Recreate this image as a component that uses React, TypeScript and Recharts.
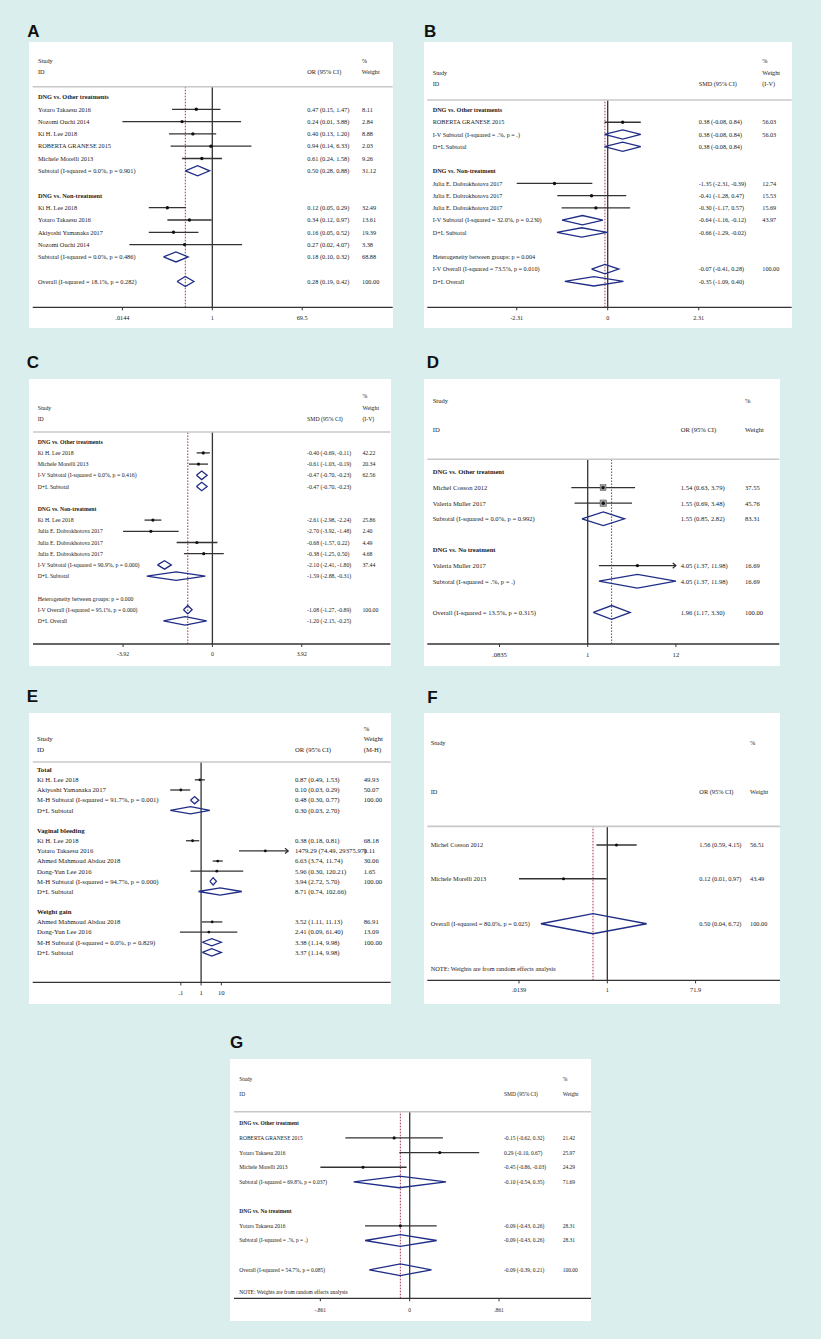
import React from 'react';
import { ScatterChart, Scatter, XAxis, YAxis, ReferenceLine } from 'recharts';

const SERIF = '"Liberation Serif", "Times New Roman", serif';
const SANS = '"Liberation Sans", Arial, sans-serif';
const BG = '#daeeee';
const NAVY = '#1f2d86';
const RED = '#a3364f';

// ---------- Panel A ----------
const aRows = [0, 1, 2, 3, 4, 5, 6, 8, 9, 10, 11, 12, 13, 15];
const aLabels = ['DNG vs.  Other treatments', 'Yotaro Takaesu 2016', 'Nozomi Ouchi 2014', 'Ki H. Lee 2018', 'ROBERTA GRANESE 2015', 'Michele Morelli 2013', 'Subtotal  (I-squared = 0.0%, p = 0.901)', 'DNG vs. Non-treatment', 'Ki H. Lee 2018', 'Yotaro Takaesu 2016', 'Akiyoshi Yamanaka 2017', 'Nozomi Ouchi 2014', 'Subtotal  (I-squared = 0.0%, p = 0.486)', 'Overall  (I-squared = 18.1%, p = 0.282)'];
const aKinds = ['h', 's', 's', 's', 's', 's', 'd', 'h', 's', 's', 's', 's', 'd', 'd'];
const aEst = [null, 0.47, 0.24, 0.40, 0.94, 0.61, 0.50, null, 0.12, 0.34, 0.16, 0.27, 0.18, 0.28];
const aLow = [null, 0.15, 0.0144, 0.13, 0.14, 0.24, 0.28, null, 0.05, 0.12, 0.05, 0.02, 0.10, 0.19];
const aHigh = [null, 1.47, 3.88, 1.20, 6.33, 1.58, 0.88, null, 0.29, 0.97, 0.52, 4.07, 0.32, 0.42];
const aWeight = [null, 8.11, 2.84, 8.88, 2.03, 9.26, 31.12, null, 32.49, 13.61, 19.39, 3.38, 68.88, 100];
const aTicks = [0.0144, 1, 69.5];
const aTickLabels = ['.0144', '1', '69.5'];

// ---------- Panel B ----------
const bRows = [0, 1, 2, 3, 5, 6, 7, 8, 9, 10, 12, 13, 14];
const bLabels = ['DNG vs.  Other treatments', 'ROBERTA GRANESE 2015', 'I-V Subtotal  (I-squared = .%, p = .)', 'D+L Subtotal', 'DNG vs. Non-treatment', 'Julia E. Dobrokhotova 2017', 'Julia E. Dobrokhotova 2017', 'Julia E. Dobrokhotova 2017', 'I-V Subtotal  (I-squared = 32.0%, p = 0.230)', 'D+L Subtotal', 'Heterogeneity between groups: p = 0.004', 'I-V Overall  (I-squared = 73.5%, p = 0.010)', 'D+L Overall'];
const bKinds = ['h', 's', 'd', 'd', 'h', 's', 's', 's', 'd', 'd', 't', 'd', 'd'];
const bEst = [null, 0.38, 0.38, 0.38, null, -1.35, -0.41, -0.30, -0.64, -0.66, null, -0.07, -0.35];
const bLow = [null, -0.08, -0.08, -0.08, null, -2.31, -1.28, -1.17, -1.16, -1.29, null, -0.41, -1.09];
const bHigh = [null, 0.84, 0.84, 0.84, null, -0.39, 0.47, 0.57, -0.12, -0.02, null, 0.28, 0.40];
const bWeight = [null, 56.03, 56.03, null, null, 12.74, 15.53, 15.69, 43.97, null, null, 100, null];
const bTicks = [-2.31, 0, 2.31];
const bTickLabels = ['-2.31', '0', '2.31'];

// ---------- Panel C ----------
const cRows = [0, 1, 2, 3, 4, 6, 7, 8, 9, 10, 11, 12, 14, 15, 16];
const cLabels = ['DNG vs.  Other treatments', 'Ki H. Lee 2018', 'Michele Morelli 2013', 'I-V Subtotal  (I-squared = 0.0%, p = 0.416)', 'D+L Subtotal', 'DNG vs. Non-treatment', 'Ki H. Lee 2018', 'Julia E. Dobrokhotova 2017', 'Julia E. Dobrokhotova 2017', 'Julia E. Dobrokhotova 2017', 'I-V Subtotal  (I-squared = 90.9%, p = 0.000)', 'D+L Subtotal', 'Heterogeneity between groups: p = 0.000', 'I-V Overall  (I-squared = 95.1%, p = 0.000)', 'D+L Overall'];
const cKinds = ['h', 's', 's', 'd', 'd', 'h', 's', 's', 's', 's', 'd', 'd', 't', 'd', 'd'];
const cEst = [null, -0.40, -0.61, -0.47, -0.47, null, -2.61, -2.70, -0.68, -0.38, -2.10, -1.59, null, -1.08, -1.20];
const cLow = [null, -0.69, -1.03, -0.70, -0.70, null, -2.98, -3.92, -1.57, -1.25, -2.41, -2.88, null, -1.27, -2.15];
const cHigh = [null, -0.11, -0.19, -0.23, -0.23, null, -2.24, -1.48, 0.22, 0.50, -1.80, -0.31, null, -0.89, -0.25];
const cWeight = [null, 42.22, 20.34, 62.56, null, null, 25.86, 2.40, 4.49, 4.68, 37.44, null, null, 100, null];
const cTicks = [-3.92, 0, 3.92];
const cTickLabels = ['-3.92', '0', '3.92'];

// ---------- Panel D ----------
const dRows = [0, 1, 2, 3, 5, 6, 7, 9];
const dLabels = ['DNG vs.  Other treatment', 'Michel Cosson 2012', 'Valeria Muller 2017', 'Subtotal  (I-squared = 0.0%, p = 0.992)', 'DNG vs. No treatment', 'Valeria Muller 2017', 'Subtotal  (I-squared = .%, p = .)', 'Overall  (I-squared = 13.5%, p = 0.315)'];
const dKinds = ['h', 's', 's', 'd', 'h', 's', 'd', 'd'];
const dEst = [null, 1.54, 1.55, 1.55, null, 4.05, 4.05, 1.96];
const dLow = [null, 0.63, 0.69, 0.85, null, 1.37, 1.37, 1.17];
const dHigh = [null, 3.79, 3.48, 2.82, null, 11.98, 11.98, 3.30];
const dWeight = [null, 37.55, 45.76, 83.31, null, 16.69, 16.69, 100];
const dTicks = [1 / 11.98, 1, 11.98];
const dTickLabels = ['.0835', '1', '12'];

// ---------- Panel E ----------
const eRows = [0, 1, 2, 3, 4, 6, 7, 8, 9, 10, 11, 12, 14, 15, 16, 17, 18];
const eLabels = ['Total', 'Ki H. Lee 2018', 'Akiyoshi Yamanaka 2017', 'M-H Subtotal  (I-squared = 91.7%, p = 0.001)', 'D+L Subtotal', 'Vaginal bleeding', 'Ki H. Lee 2018', 'Yotaro Takaesu 2016', 'Ahmed Mahmoud Abdou 2018', 'Dong-Yun Lee 2016', 'M-H Subtotal  (I-squared = 94.7%, p = 0.000)', 'D+L Subtotal', 'Weight gain', 'Ahmed Mahmoud Abdou 2018', 'Dong-Yun Lee 2016', 'M-H Subtotal  (I-squared = 0.0%, p = 0.829)', 'D+L Subtotal'];
const eKinds = ['h', 's', 's', 'd', 'd', 'h', 's', 's', 's', 's', 'd', 'd', 'h', 's', 's', 'd', 'd'];
const eEst = [null, 0.87, 0.10, 0.48, 0.30, null, 0.38, 1479.29, 6.63, 5.96, 3.94, 8.71, null, 3.52, 2.41, 3.38, 3.37];
const eLow = [null, 0.49, 0.03, 0.30, 0.03, null, 0.18, 74.49, 3.74, 0.30, 2.72, 0.74, null, 1.11, 0.09, 1.14, 1.14];
const eHigh = [null, 1.53, 0.29, 0.77, 2.70, null, 0.81, 29375.97, 11.74, 120.21, 5.70, 102.66, null, 11.13, 61.40, 9.98, 9.98];
const eWeight = [null, 49.93, 50.07, 100, null, null, 68.18, 0.11, 30.06, 1.65, 100, null, null, 86.91, 13.09, 100, null];
const eTicks = [0.1, 1, 10];
const eTickLabels = ['.1', '1', '10'];

// ---------- Panel F ----------
const fRows = [0, 3, 7, 11];
const fLabels = ['Michel Cosson 2012', 'Michele Morelli 2013', 'Overall  (I-squared = 80.0%, p = 0.025)', 'NOTE: Weights are from random effects analysis'];
const fKinds = ['s', 's', 'd', 't'];
const fEst = [1.56, 0.12, 0.50, null];
const fLow = [0.59, 0.0139, 0.04, null];
const fHigh = [4.15, 0.97, 6.72, null];
const fWeight = [56.51, 43.49, 100, null];
const fTicks = [1 / 71.9, 1, 71.9];
const fTickLabels = ['.0139', '1', '71.9'];

// ---------- Panel G ----------
const gRows = [0, 1, 2, 3, 4, 6, 7, 8, 10, 11.5];
const gLabels = ['DNG vs.  Other treatment', 'ROBERTA GRANESE 2015', 'Yotaro Takaesu 2016', 'Michele Morelli 2013', 'Subtotal  (I-squared = 69.8%, p = 0.037)', 'DNG vs. No treatment', 'Yotaro Takaesu 2016', 'Subtotal  (I-squared = .%, p = .)', 'Overall  (I-squared = 54.7%, p = 0.085)', 'NOTE: Weights are from random effects analysis'];
const gKinds = ['h', 's', 's', 's', 'd', 'h', 's', 'd', 'd', 't'];
const gEst = [null, -0.15, 0.29, -0.45, -0.10, null, -0.09, -0.09, -0.09, null];
const gLow = [null, -0.62, -0.10, -0.861, -0.54, null, -0.43, -0.43, -0.39, null];
const gHigh = [null, 0.32, 0.67, -0.03, 0.35, null, 0.26, 0.26, 0.21, null];
const gWeight = [null, 21.42, 25.97, 24.29, 71.69, null, 28.31, 28.31, 100, null];
const gTicks = [-0.861, 0, 0.861];
const gTickLabels = ['-.861', '0', '.861'];

type H = { t: string; x: number; y: number };
const hd = (t: string, x: number, y: number): H => ({ t, x, y });

const panels: any[] = [
  {
    label: 'A', lx: 27.3, ly: 36.7, box: [29, 42, 393, 328], axis: [32.7, 392.7], axisY: 307.3, sepY: 86.7,
    firstY: 97, step: 12.3, log: true, domain: [Math.exp(-8.472), Math.exp(8.509)], ticks: aTicks, tickLabels: aTickLabels,
    tickY: 318, ref: 0.28, nullV: 1, cols: [38, 307.3, 362], fs: 6.3, dh: 0.41, mr: 1.7,
    headers: [hd('Study', 38, 60.3), hd('ID', 38, 72), hd('OR (95% CI)', 307.3, 72), hd('%', 361.7, 60.3), hd('Weight', 361.7, 72)],
    rows: aRows, labels: aLabels, kinds: aKinds, est: aEst, low: aLow, high: aHigh, weight: aWeight,
  },
  {
    label: 'B', lx: 424, ly: 36.7, box: [424, 42, 791.7, 328], axis: [427.3, 791.7], axisY: 307.3, sepY: 100,
    firstY: 110, step: 12.24, log: false, domain: [-4.58, 4.671], ticks: bTicks, tickLabels: bTickLabels,
    tickY: 318.3, ref: -0.07, nullV: 0, cols: [432.7, 698.7, 762.3], fs: 6.2, dh: 0.38, mr: 1.7,
    headers: [hd('%', 762.3, 61), hd('Study', 432.7, 73.3), hd('Weight', 762.3, 73.3), hd('ID', 432.7, 84.3), hd('SMD (95% CI)', 698.7, 84.3), hd('(I-V)', 762.3, 84.3)],
    rows: bRows, labels: bLabels, kinds: bKinds, est: bEst, low: bLow, high: bHigh, weight: bWeight,
  },
  {
    label: 'C', lx: 26.7, ly: 368.3, box: [29.3, 379, 391, 666], axis: [33.3, 390.7], axisY: 644, sepY: 432,
    firstY: 441.7, step: 11.2, log: false, domain: [-7.872, 7.81], ticks: cTicks, tickLabels: cTickLabels,
    tickY: 654.3, ref: -1.08, nullV: 0, cols: [38, 307.3, 362.7], fs: 5.8, dh: 0.38, mr: 1.6,
    headers: [hd('%', 362.7, 396), hd('Study', 38, 408.3), hd('Weight', 362.7, 408.3), hd('ID', 38, 419.3), hd('SMD (95% CI)', 307.3, 419.3), hd('(I-V)', 362.7, 419.3)],
    rows: cRows, labels: cLabels, kinds: cKinds, est: cEst, low: cLow, high: cHigh, weight: cWeight,
  },
  {
    label: 'D', lx: 426.7, ly: 368.3, box: [424, 379, 780, 666], axis: [427.3, 779.3], axisY: 644, sepY: 459.3,
    firstY: 472, step: 15.6, log: true, domain: [Math.exp(-4.516), Math.exp(5.394)], ticks: dTicks, tickLabels: dTickLabels,
    tickY: 654.3, ref: 1.96, nullV: 1, cols: [432.7, 680.7, 745], fs: 6.6, dh: 0.44, mr: 1.7, boxScale: 0.95, clipMax: 11.98,
    headers: [hd('Study', 432.7, 400.7), hd('%', 745, 400.7), hd('ID', 432.7, 430), hd('OR (95% CI)', 680.7, 430), hd('Weight', 745, 430)],
    rows: dRows, labels: dLabels, kinds: dKinds, est: dEst, low: dLow, high: dHigh, weight: dWeight,
  },
  {
    label: 'E', lx: 26.7, ly: 701.7, box: [29.3, 713.3, 391, 1004], axis: [33, 391], axisY: 982.7, sepY: 762.3,
    firstY: 770, step: 10.15, log: true, domain: [Math.exp(-19.14), Math.exp(21.55)], ticks: eTicks, tickLabels: eTickLabels,
    tickY: 993.3, ref: null, nullV: 1, cols: [37.3, 295.3, 364], fs: 6.7, dh: 0.36, mr: 1.4, clipMax: 20000,
    headers: [hd('%', 364, 729.3), hd('Study', 37.3, 739.3), hd('Weight', 364, 739.3), hd('ID', 37.3, 750), hd('OR (95% CI)', 295.3, 750), hd('(M-H)', 364, 750)],
    rows: eRows, labels: eLabels, kinds: eKinds, est: eEst, low: eLow, high: eHigh, weight: eWeight,
  },
  {
    label: 'F', lx: 427.3, ly: 703.3, box: [424, 713.3, 780, 1004], axis: [427.3, 780], axisY: 980.7, sepY: 826.7,
    firstY: 845.3, step: 11.25, log: true, domain: [Math.exp(-8.717), Math.exp(8.363)], ticks: fTicks, tickLabels: fTickLabels,
    tickY: 990, ref: 0.5, nullV: 1, cols: [430.7, 699.3, 750], fs: 6.35, dh: 0.89, mr: 1.6,
    headers: [hd('Study', 430.7, 743.3), hd('%', 750, 743.3), hd('ID', 430.7, 791.7), hd('OR (95% CI)', 699.3, 791.7), hd('Weight', 750, 791.7)],
    rows: fRows, labels: fLabels, kinds: fKinds, est: fEst, low: fLow, high: fHigh, weight: fWeight,
  },
  {
    label: 'G', lx: 230, ly: 1048.3, box: [230, 1059, 591, 1320.7], axis: [234, 591], axisY: 1298.3, sepY: 1111.7,
    firstY: 1123.3, step: 14.65, log: false, domain: [-1.693, 1.747], ticks: gTicks, tickLabels: gTickLabels,
    tickY: 1310, ref: -0.09, nullV: 0, cols: [239.3, 504, 562.7], fs: 5.5, dh: 0.4, mr: 1.6,
    headers: [hd('Study', 239.3, 1079.3), hd('%', 562.7, 1079.3), hd('ID', 239.3, 1093.7), hd('SMD (95% CI)', 504, 1093.7), hd('Weight', 562.7, 1093.7)],
    rows: gRows, labels: gLabels, kinds: gKinds, est: gEst, low: gLow, high: gHigh, weight: gWeight,
  },
];

const f2 = (v: number) => v.toFixed(2);

function Panel({ c }: { c: any }) {
  const [L, T, R, B] = c.box;
  const W = R - L;
  const Hh = B - T;
  const margin = { left: c.axis[0] - L, right: R - c.axis[1], top: c.sepY - T, bottom: 0 };
  const xh = B - c.axisY;
  const yDom = [(c.sepY - c.firstY) / c.step, (c.axisY - c.firstY) / c.step];
  const idx: number[] = c.rows.map((_: number, i: number) => i);
  const studies = idx.filter((i) => c.kinds[i] === 's');
  const diamonds = idx.filter((i) => c.kinds[i] === 'd');
  const cap = (v: number) => (c.clipMax != null ? Math.min(v, c.clipMax) : v);
  const textPts = idx.map((i) => ({ x: c.nullV, y: c.rows[i], i }));
  const markerPts = studies.map((i) => ({ x: c.est[i], y: c.rows[i], w: c.weight[i] }));
  const arrowPts = studies
    .filter((i) => c.clipMax != null && c.high[i] >= c.clipMax)
    .map((i) => ({ x: cap(c.high[i]), y: c.rows[i] }));

  const textShape = (p: any) => {
    const i = p.payload.i;
    const y = p.cy + c.fs * 0.35;
    const k = c.kinds[i];
    const ci = c.est[i] != null ? `${f2(c.est[i])} (${f2(c.low[i])}, ${f2(c.high[i])})` : '';
    const w = c.weight[i] != null ? f2(c.weight[i]) : '';
    return (
      <g fontFamily={SERIF} fontSize={c.fs} fill="#1a1a1a" style={{ whiteSpace: 'pre' }}>
        <text x={c.cols[0] - L} y={y} fontWeight={k === 'h' ? 'bold' : 'normal'}>{c.labels[i]}</text>
        {ci ? <text x={c.cols[1] - L} y={y}>{ci}</text> : null}
        {w ? <text x={c.cols[2] - L} y={y}>{w}</text> : null}
      </g>
    );
  };

  const markerShape = (p: any) => {
    const s = c.boxScale ? c.boxScale * Math.sqrt(p.payload.w) : 0;
    return (
      <g>
        {s >= 5 ? <rect x={p.cx - s / 2} y={p.cy - s / 2} width={s} height={s} fill="#9c9c9c" stroke="#555" strokeWidth={0.5} /> : null}
        <circle cx={p.cx} cy={p.cy} r={c.mr} fill="#111" />
      </g>
    );
  };

  const arrowShape = (p: any) => (
    <path d={`M${p.cx - 3.2},${p.cy - 2.6} L${p.cx},${p.cy} L${p.cx - 3.2},${p.cy + 2.6}`} fill="none" stroke="#222" strokeWidth={1.1} />
  );

  const tickFn = (p: any) => {
    const k = c.ticks.indexOf(p.payload.value);
    return (
      <text x={p.x} y={c.tickY - T + c.fs * 0.35} textAnchor="middle" fontFamily={SERIF} fontSize={c.fs} fill="#222">
        {k >= 0 ? c.tickLabels[k] : ''}
      </text>
    );
  };

  return (
    <div style={{ position: 'absolute', left: L, top: T, width: W, height: Hh, background: '#ffffff' }}>
      <div style={{ position: 'absolute', left: 0, top: 0 }}>
        <ScatterChart width={W} height={Hh} margin={margin}>
          <XAxis
            type="number"
            dataKey="x"
            scale={c.log ? 'log' : 'linear'}
            domain={c.domain}
            allowDataOverflow
            ticks={c.ticks}
            interval={0}
            tick={tickFn}
            tickSize={3}
            tickMargin={0}
            height={xh}
            axisLine={{ stroke: '#333', strokeWidth: 1.3 }}
            tickLine={{ stroke: '#333', strokeWidth: 1 }}
          />
          <YAxis type="number" dataKey="y" domain={yDom} reversed hide allowDataOverflow />
          <ReferenceLine x={c.nullV} stroke="#333" strokeWidth={1.3} />
          {c.ref != null ? <ReferenceLine x={c.ref} stroke={RED} strokeWidth={1} strokeDasharray="1.6 1.4" /> : null}
          {studies.map((i) => (
            <ReferenceLine
              key={'ci' + i}
              segment={[{ x: c.low[i], y: c.rows[i] }, { x: cap(c.high[i]), y: c.rows[i] }]}
              stroke="#333"
              strokeWidth={1.3}
            />
          ))}
          {diamonds.map((i) => (
            <Scatter
              key={'dm' + i}
              data={[
                { x: c.low[i], y: c.rows[i] },
                { x: c.est[i], y: c.rows[i] - c.dh },
                { x: c.high[i], y: c.rows[i] },
                { x: c.est[i], y: c.rows[i] + c.dh },
                { x: c.low[i], y: c.rows[i] },
              ]}
              line={{ stroke: NAVY, strokeWidth: 1.3 }}
              lineType="joint"
              shape={() => <g />}
              isAnimationActive={false}
            />
          ))}
          <Scatter data={markerPts} shape={markerShape} isAnimationActive={false} />
          {arrowPts.length > 0 ? <Scatter data={arrowPts} shape={arrowShape} isAnimationActive={false} /> : null}
          <Scatter data={textPts} shape={textShape} isAnimationActive={false} />
        </ScatterChart>
      </div>
      <svg width={W} height={Hh} style={{ position: 'absolute', left: 0, top: 0, pointerEvents: 'none' }}>
        <line x1={margin.left} x2={W - margin.right} y1={c.sepY - T} y2={c.sepY - T} stroke="#c8c8c8" strokeWidth={1.6} />
        {c.headers.map((h: H, j: number) => (
          <text key={j} x={h.x - L} y={h.y - T + c.fs * 0.35} fontFamily={SERIF} fontSize={c.fs} fill="#1a1a1a">{h.t}</text>
        ))}
      </svg>
    </div>
  );
}

export default function App() {
  return (
    <div style={{ position: 'absolute', left: 0, top: 0, width: 821, height: 1339, background: BG, overflow: 'hidden' }}>
      <svg width={821} height={1339} style={{ position: 'absolute', left: 0, top: 0 }}>
        {panels.map((p) => (
          <text key={p.label} x={p.lx} y={p.ly} fontFamily={SANS} fontWeight="bold" fontSize={17} fill="#111">{p.label}</text>
        ))}
      </svg>
      {panels.map((p) => (
        <Panel key={p.label} c={p} />
      ))}
    </div>
  );
}
